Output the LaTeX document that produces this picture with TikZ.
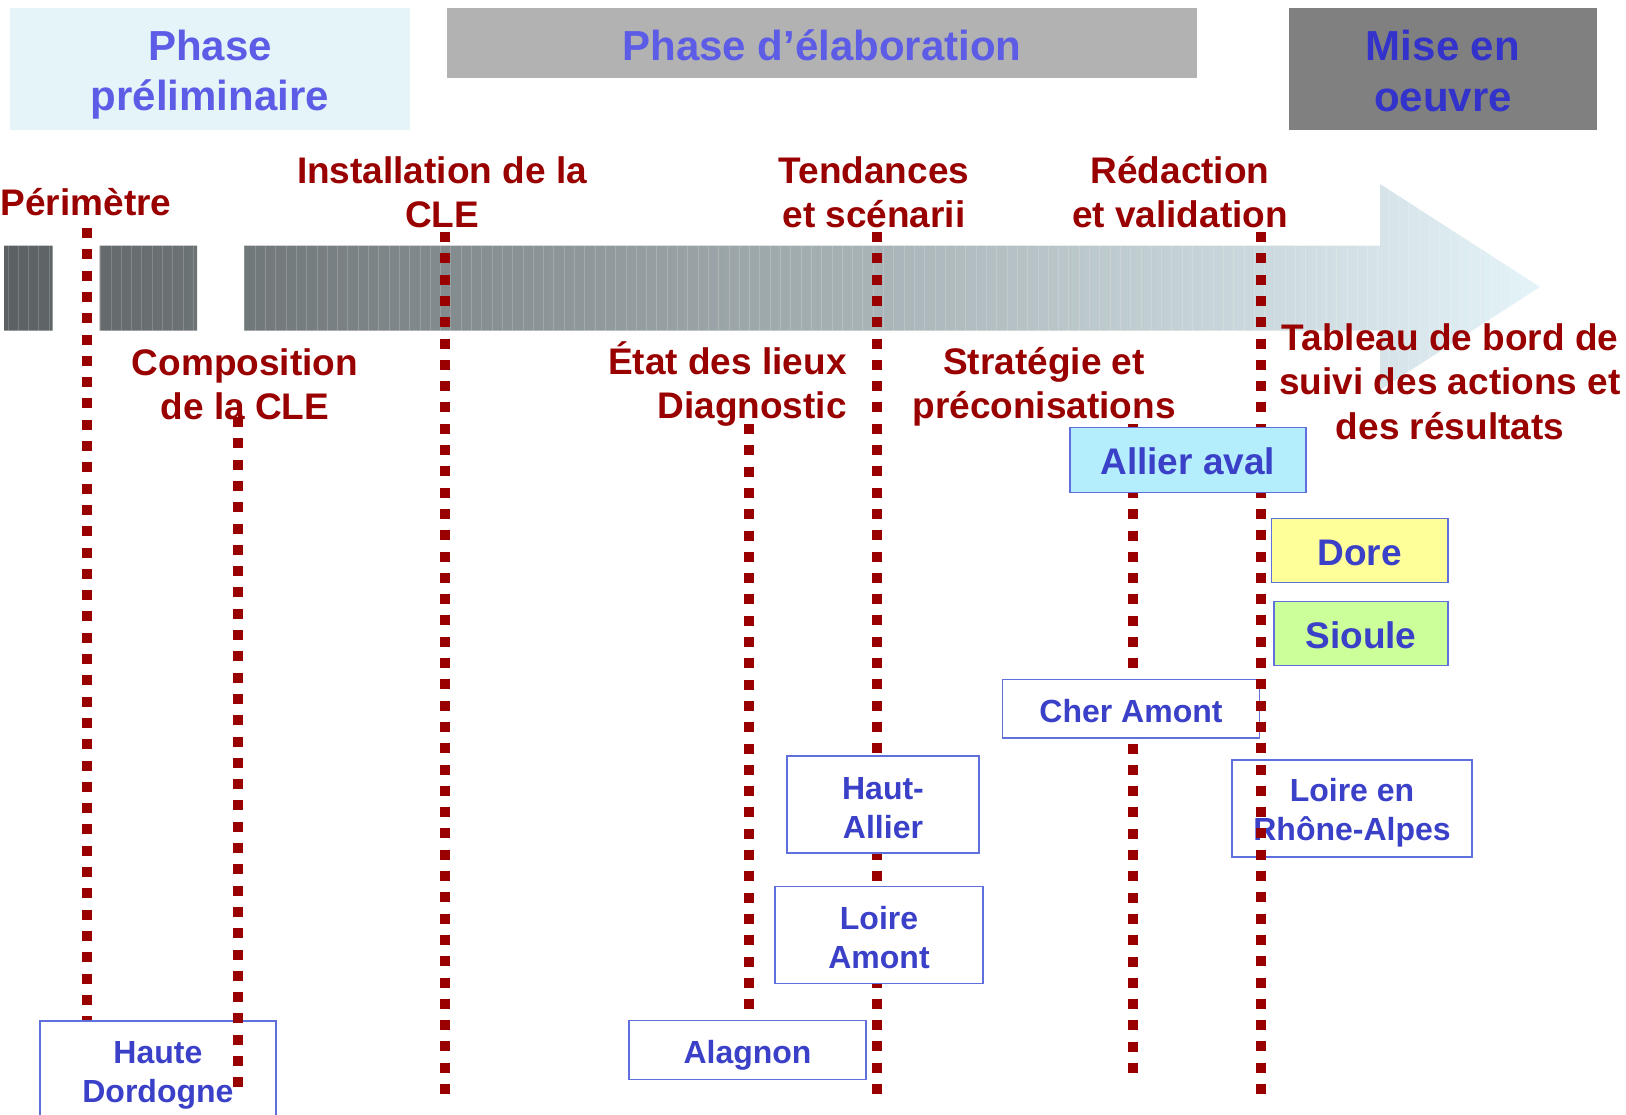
\documentclass[tikz,border=0pt]{standalone}
\usepackage{fontspec}
\setmainfont{Liberation Sans}
\definecolor{darkred}{HTML}{990000}
\definecolor{phaseblue}{HTML}{5C5CE6}
\definecolor{miseblue}{HTML}{3333CC}
\definecolor{textblue}{HTML}{3A40C8}
\definecolor{boxblue}{HTML}{5F70DD}
\definecolor{prelimfill}{HTML}{E4F4F9}
\definecolor{elabfill}{HTML}{B2B2B2}
\definecolor{misefill}{HTML}{808080}
\definecolor{allierfill}{HTML}{B4EEFC}
\definecolor{dorefill}{HTML}{FFFF99}
\definecolor{sioulefill}{HTML}{CCFF99}
\definecolor{barleft}{HTML}{5B6163}
\definecolor{barmid}{HTML}{9AA1A3}
\definecolor{barright}{HTML}{E4F3F8}
\begin{document}
\begin{tikzpicture}[x=0.5pt,y=-0.5pt,
  phasebox/.style={inner sep=0pt},
  phasetext/.style={inner sep=0pt, align=center, font=\fontsize{21}{25.2}\selectfont\bfseries},
  redlab/.style={inner sep=0pt, text=darkred, font=\fontsize{18.5}{22.2}\selectfont\bfseries},
  colbox/.style={draw=boxblue, line width=0.75pt, inner sep=0pt},
  coltext/.style={text=textblue, inner sep=0pt, align=center, font=\fontsize{18.5}{22.2}\selectfont\bfseries},
  whitebox/.style={draw=boxblue, fill=white, line width=0.75pt, inner sep=0pt},
  whitetext/.style={text=textblue, inner sep=0pt, align=center, font=\fontsize{16}{19.5}\selectfont\bfseries},
  dotline/.style={draw=darkred, line width=5pt, dash pattern=on 5pt off 5.65pt}]
\useasboundingbox (0,0) rectangle (1626,1114);
\clip (0,0) rectangle (1626,1114);

% phase boxes
\node[phasebox, fill=prelimfill, minimum width=199.6pt, minimum height=60.65pt] (prelim) at (210,69) {};
\node[phasetext, text=phaseblue] (prelimt) at ([yshift=-2.85pt]prelim.center) {Phase\\préliminaire};
\node[phasebox, fill=elabfill, minimum width=375pt, minimum height=34.75pt] (elab) at (822,43) {};
\node[phasetext, text=phaseblue] (elabt) at ([yshift=-1pt]elab.center) {Phase d’élaboration};
\node[phasebox, fill=misefill, minimum width=154pt, minimum height=60.65pt] (mise) at (1443,69) {};
\node[phasetext, text=miseblue] (miset) at ([yshift=-1pt]mise.center) {Mise en\\oeuvre};

% timeline bar
\begin{scope}
  \clip (4,245.5) rectangle (52.5,330.5)
        (99.5,245.5) rectangle (197,330.5)
        (244,245.5) -- (1380,245.5) -- (1380,184) -- (1540,287) -- (1380,390) -- (1380,330.5) -- (244,330.5) -- cycle;
  \shade[left color=barleft, middle color=barmid, right color=barright] (4,184) rectangle (1540,390);
  \foreach \i in {0,...,150} {
    \draw[white, opacity=0.18, line width=0.5pt] ({8+10.3*\i},180) -- ({8+10.3*\i},395);
  }
\end{scope}

% labels top
\node[redlab, align=center] (perim) at (86,202) {Périmètre};
\node[redlab, align=center] (install) at (442,192) {Installation de la\\CLE};
\node[redlab, align=center] (tend) at (874,192) {Tendances\\et scénarii};
\node[redlab, align=center] (redac) at (1180,192) {Rédaction\\et validation};
% labels bottom
\node[redlab, align=center] (compo) at (245,384) {Composition\\de la CLE};
\node[redlab, align=right, anchor=east] (etat) at (847,384) {État des lieux\\Diagnostic};
\node[redlab, align=center] (strat) at (1044,387) {Stratégie et\\préconisations};
\node[redlab, align=center] (tableau) at (1450,381.5) {Tableau de bord de\\suivi des actions et\\des résultats};

% line end points
\coordinate (l1t) at (86.5,228);   \coordinate (l1b) at (86.5,1021);
\coordinate (l2t) at (238,417);    \coordinate (l2b) at (238,1088);
\coordinate (l3t) at (444.6,232);  \coordinate (l3b) at (444.6,1096);
\coordinate (l4t) at (749,424);    \coordinate (l4b) at (749,1011);
\coordinate (l5t) at (876.5,232);  \coordinate (l5b) at (876.5,1096);
\coordinate (l6t) at (1133,424);   \coordinate (l6b) at (1133,1074);
\coordinate (l7t) at (1261,232);   \coordinate (l7b) at (1261,1096);

\draw[dotline] (l1t) -- (l1b);
\draw[dotline] (l3t) -- (l3b);
\draw[dotline] (l4t) -- (l4b);
\draw[dotline] (l5t) -- (l5b);
\draw[dotline] (l6t) -- (l6b);

% white boxes
\node[whitebox, minimum width=128.3pt, minimum height=29.3pt] (cher) at (1131,708.8) {};
\node[whitetext] (chert) at ([yshift=-1pt]cher.center) {Cher Amont};
\node[whitebox, minimum width=96pt, minimum height=48.5pt] (hautallier) at (883,804.5) {};
\node[whitetext] (hautalliert) at ([yshift=-1.8pt]hautallier.center) {Haut-\\Allier};
\node[whitebox, minimum width=103.9pt, minimum height=48.3pt] (loireamont) at (879,935) {};
\node[whitetext] (loireamontt) at ([yshift=-1.3pt]loireamont.center) {Loire\\Amont};
\node[whitebox, minimum width=118.45pt, minimum height=29.3pt] (alagnon) at (747.5,1050) {};
\node[whitetext] (alagnont) at ([yshift=-2.6pt]alagnon.center) {Alagnon};
\node[whitebox, minimum width=118.15pt, minimum height=50.15pt] (dordogne) at (157.9,1070.9) {};
\node[whitetext] (dordognet) at ([yshift=-2.1pt]dordogne.center) {Haute\\Dordogne};
\node[whitebox, minimum width=120.15pt, minimum height=48.35pt] (rhone) at (1352,808.4) {};
\node[whitetext] (rhonet) at ([yshift=-2.3pt]rhone.center) {Loire en\\Rhône-Alpes};

% coloured boxes
\node[colbox, fill=dorefill, minimum width=88.25pt, minimum height=32.2pt] (dore) at (1359.8,550.5) {};
\node[coltext] (doret) at ([yshift=-1pt]dore.center) {Dore};
\node[colbox, fill=sioulefill, minimum width=87pt, minimum height=32pt] (sioule) at (1361,633.7) {};
\node[coltext] (sioulet) at ([yshift=-1pt]sioule.center) {Sioule};

\draw[dotline] (l2t) -- (l2b);
\draw[dotline] (l7t) -- (l7b);

\node[colbox, fill=allierfill, minimum width=118pt, minimum height=32.5pt] (allier) at (1187.8,459.8) {};
\node[coltext] (alliert) at ([yshift=-0.5pt]allier.center) {Allier aval};
\end{tikzpicture}
\end{document}
